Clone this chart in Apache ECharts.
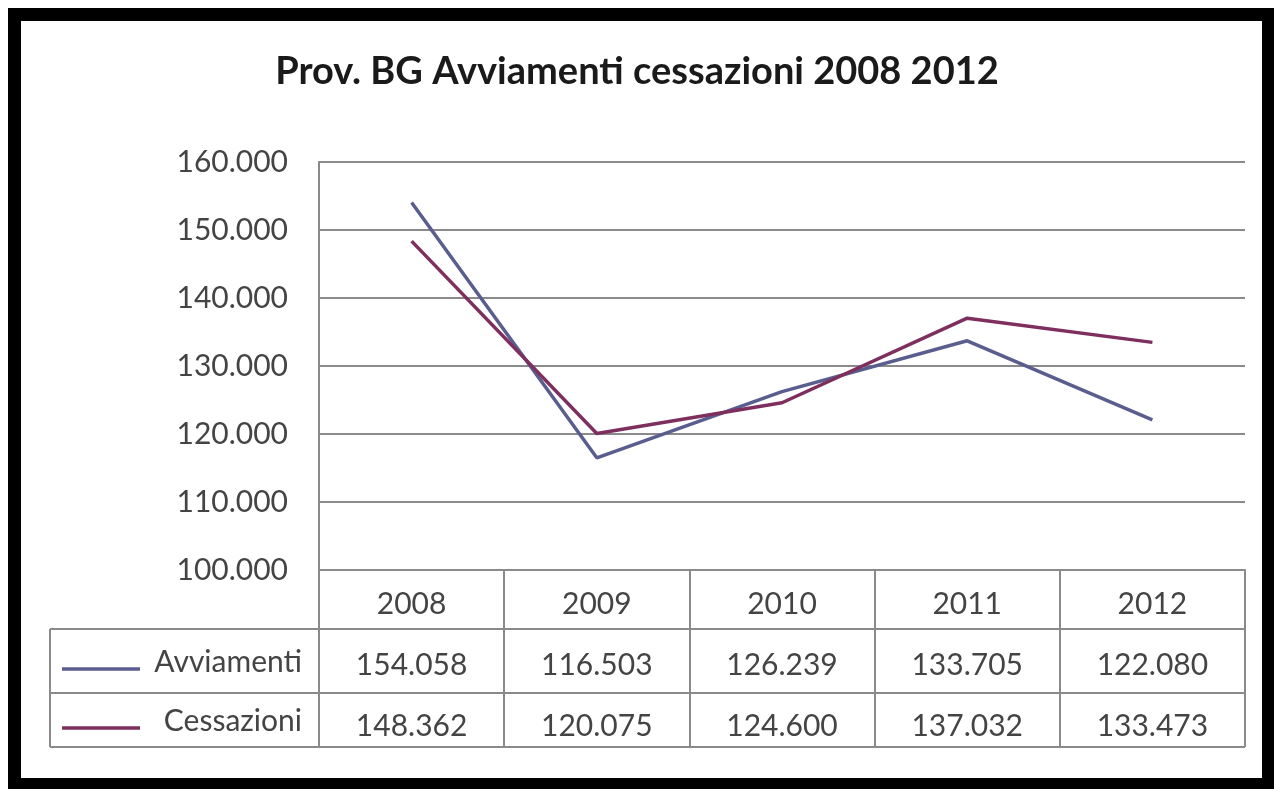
<!DOCTYPE html>
<html>
<head>
<meta charset="utf-8">
<script src="https://cdn.jsdelivr.net/npm/echarts@6/dist/echarts.min.js"></script>
<style>
html, body { margin: 0; padding: 0; background: #fff; }
#chart { width: 1274px; height: 789px; }
</style>
</head>
<body>
<div id="chart"></div>
<script>
// dati
var anni = ['2008', '2009', '2010', '2011', '2012'];
var avviamenti = [154058, 116503, 126239, 133705, 122080];
var cessazioni = [148362, 120075, 124600, 137032, 133473];
var nomiSerie = ['Avviamenti', 'Cessazioni'];
var coloriSerie = ['#5a5e8e', '#7e2f5e'];

var FONT = 'Lato, "Open Sans", sans-serif';
var GRIGIO = '#8a8a8a';
var TESTO = '#444';

// formato italiano: 154058 -> 154.058
function fmt(v) {
	return String(Math.round(v)).replace(/\B(?=(\d{3})+(?!\d))/g, '.');
}

var myChart = echarts.init(document.getElementById('chart'));

var option = {
	backgroundColor: '#fff',
	animation: false,
	title: {
		text: 'Prov. BG Avviamenti cessazioni 2008 2012',
		left: 'center',
		top: 48,
		textStyle: { fontFamily: FONT, fontSize: 38, fontWeight: 'bold', color: '#1a1a1a' }
	},
	grid: { left: 319, right: 29, top: 162, bottom: 219 },
	xAxis: {
		type: 'category',
		data: anni,
		boundaryGap: true,
		axisLine: { show: true, lineStyle: { color: GRIGIO, width: 2 } },
		// le tacche fanno da linee verticali della tabella
		axisTick: { show: true, length: 177, lineStyle: { color: GRIGIO, width: 2 } },
		axisLabel: {
			margin: 4,
			verticalAlign: 'top',
			lineHeight: 61,
			fontFamily: FONT,
			fontSize: 30,
			color: TESTO,
			formatter: function (val, idx) {
				return val + '\n' + fmt(avviamenti[idx]) + '\n' + fmt(cessazioni[idx]);
			}
		}
	},
	yAxis: {
		type: 'value',
		min: 100000,
		max: 160000,
		interval: 10000,
		axisLine: { show: true, lineStyle: { color: GRIGIO, width: 2 } },
		axisTick: { show: false },
		splitLine: { lineStyle: { color: GRIGIO, width: 2 } },
		axisLabel: {
			margin: 31,
			padding: [8, 0, 0, 0],
			fontFamily: FONT,
			fontSize: 30,
			color: TESTO,
			formatter: fmt
		}
	},
	series: [{
		name: nomiSerie[0],
		type: 'line',
		data: avviamenti,
		symbol: 'none',
		lineStyle: { color: coloriSerie[0], width: 3.5 },
		z: 3
	}, {
		name: nomiSerie[1],
		type: 'line',
		data: cessazioni,
		symbol: 'none',
		lineStyle: { color: coloriSerie[1], width: 3.5 },
		z: 4
	}]
};
myChart.setOption(option);

// tabella dati sotto il grafico
var passo = myChart.convertToPixel({ xAxisIndex: 0 }, 1) - myChart.convertToPixel({ xAxisIndex: 0 }, 0);
var x0 = myChart.convertToPixel({ xAxisIndex: 0 }, 0) - passo / 2;
var xEnd = 1274 - 29;
var yBase = myChart.convertToPixel({ yAxisIndex: 0 }, 100000);
var righe = [yBase + 59, yBase + 123, yBase + 177];
var sx = 50;
var lineaGrigia = { stroke: GRIGIO, lineWidth: 2 };

var elementi = [
	// cornice nera
	{ type: 'rect', shape: { x: 14.5, y: 14.5, width: 1254, height: 770 }, style: { fill: null, stroke: '#000', lineWidth: 13 }, z: 100 },
	{ type: 'line', shape: { x1: sx, y1: righe[0], x2: xEnd, y2: righe[0] }, style: lineaGrigia },
	{ type: 'line', shape: { x1: sx, y1: righe[1], x2: xEnd, y2: righe[1] }, style: lineaGrigia },
	{ type: 'line', shape: { x1: sx, y1: righe[2], x2: xEnd, y2: righe[2] }, style: lineaGrigia },
	{ type: 'line', shape: { x1: sx, y1: righe[0], x2: sx, y2: righe[2] }, style: lineaGrigia }
];
for (var i = 0; i < nomiSerie.length; i++) {
	var yc = (righe[i] + righe[i + 1]) / 2 + 1;
	elementi.push({
		type: 'line',
		shape: { x1: 62, y1: yc + 7, x2: 140, y2: yc + 7 },
		style: { stroke: coloriSerie[i], lineWidth: 3.5 }
	});
	elementi.push({
		type: 'text',
		x: x0 - 17,
		y: yc,
		style: { text: nomiSerie[i], fontFamily: FONT, fontSize: 30, fill: TESTO, align: 'right', verticalAlign: 'middle' }
	});
}
myChart.setOption({ graphic: elementi });
</script>
</body>
</html>
